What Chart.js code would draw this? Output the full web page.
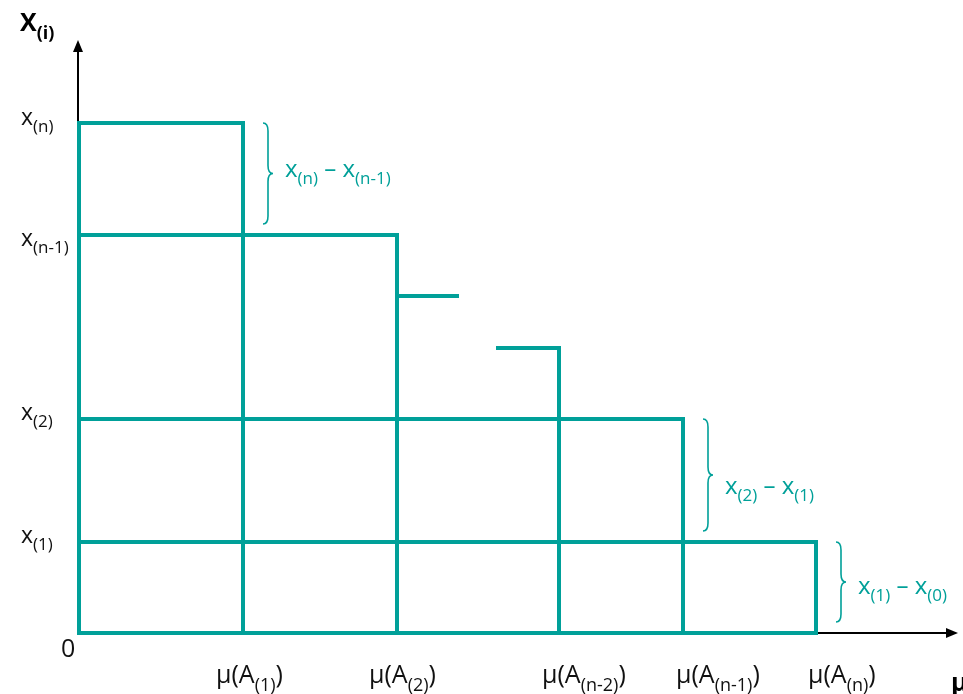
<!DOCTYPE html>
<html lang="en">
<head>
<meta charset="UTF-8">
<title>Staircase</title>
<style>
  body { margin: 0; background: #fff; }
  #wrap { width: 963px; height: 694px; }
</style>
</head>
<body>
<div id="wrap"><canvas id="stairs" width="963" height="694"></canvas></div>
<script src="https://cdn.jsdelivr.net/npm/chart.js"></script>
<script>
// step positions on the horizontal axis, mu(A(i))
var muValues = [1.64, 3.18, 4.80, 6.04, 7.37];
var muLabels = [['μ(A', '(1)', ')'], ['μ(A', '(2)', ')'], ['μ(A', '(n-2)', ')'], ['μ(A', '(n-1)', ')'], ['μ(A', '(n)', ')']];
// height of the right edge of each step
var columnTops = [5.10, 3.98, 2.85, 2.14, 0.91];

// levels x(i) on the vertical axis
var levelValues = [0.91, 2.14, 3.98, 5.10];
var levelLabels = [['x', '(1)'], ['x', '(2)'], ['x', '(n-1)'], ['x', '(n)']];
var levelReach = [7.37, 6.04, 3.18, 1.64];

// broken steps standing for the gap between (2) and (n-2)
var stubY = [3.37, 2.85];
var stubFrom = [3.18, 4.19];
var stubTo = [3.78, 4.80];

// braces with differences
var braceLabels = [['x', '(n)', ' – x', '(n-1)'], ['x', '(2)', ' – x', '(1)'], ['x', '(1)', ' – x', '(0)']];
var braceUpper = [5.10, 2.14, 0.91];
var braceLower = [3.98, 0.91, 0];
var braceAt = [1.64, 6.04, 7.37];

var xMax = 8.79, yMax = 5.93;

var teal = '#00a099';
var FONT = '"Open Sans", "DejaVu Sans", sans-serif';

function seg(x1, y1, x2, y2) {
    return {
        data: [{ x: x1, y: y1 }, { x: x2, y: y2 }],
        showLine: true,
        borderColor: teal,
        borderWidth: 4,
        borderCapStyle: 'square',
        pointRadius: 0,
        clip: false
    };
}

var datasets = [];
datasets.push(seg(0, 0, muValues[muValues.length - 1], 0));
datasets.push(seg(0, 0, 0, Math.max.apply(null, columnTops)));
levelValues.forEach(function(v, i) { datasets.push(seg(0, v, levelReach[i], v)); });
muValues.forEach(function(m, i) { datasets.push(seg(m, 0, m, columnTops[i])); });
stubY.forEach(function(v, i) { datasets.push(seg(stubFrom[i], v, stubTo[i], v)); });

// text with alternating normal / subscript pieces
function drawParts(ctx, parts, x, y, size, color, weight) {
    var subSize = Math.round(size * 0.72);
    ctx.fillStyle = color;
    ctx.textAlign = 'left';
    ctx.textBaseline = 'alphabetic';
    parts.forEach(function(p, i) {
        var sub = i % 2 === 1;
        ctx.font = (weight || 'normal') + ' ' + (sub ? subSize : size) + 'px ' + FONT;
        ctx.fillText(p, x, sub ? y + size * 0.3 : y);
        x += ctx.measureText(p).width;
    });
}

function arrow(ctx, x1, y1, x2, y2) {
    var a = Math.atan2(y2 - y1, x2 - x1);
    ctx.beginPath();
    ctx.moveTo(x1, y1);
    ctx.lineTo(x2 - 8 * Math.cos(a), y2 - 8 * Math.sin(a));
    ctx.stroke();
    ctx.beginPath();
    ctx.moveTo(x2, y2);
    ctx.lineTo(x2 - 12 * Math.cos(a) + 5 * Math.sin(a), y2 - 12 * Math.sin(a) - 5 * Math.cos(a));
    ctx.lineTo(x2 - 12 * Math.cos(a) - 5 * Math.sin(a), y2 - 12 * Math.sin(a) + 5 * Math.cos(a));
    ctx.closePath();
    ctx.fill();
}

function brace(ctx, x, top, bottom) {
    var mid = (top + bottom) / 2, w = 5, r = 8;
    ctx.beginPath();
    ctx.moveTo(x, top);
    ctx.quadraticCurveTo(x + w, top, x + w, top + r);
    ctx.lineTo(x + w, mid - r);
    ctx.quadraticCurveTo(x + w, mid, x + 2 * w, mid);
    ctx.quadraticCurveTo(x + w, mid, x + w, mid + r);
    ctx.lineTo(x + w, bottom - r);
    ctx.quadraticCurveTo(x + w, bottom, x, bottom);
    ctx.stroke();
}

// small per-label placement tweaks (pixels)
var levelNudge = [1, 1, 11, 2];
var muNudge = [-27, -28, -17, -7, -8];
var braceNudge = [3, 19, 12];

var axesPlugin = {
    id: 'axesArrows',
    beforeDatasetsDraw: function(chart) {
        var ctx = chart.ctx, xs = chart.scales.x, ys = chart.scales.y;
        var x0 = xs.getPixelForValue(0) - 1, y0 = ys.getPixelForValue(0);
        ctx.save();
        ctx.strokeStyle = '#000';
        ctx.fillStyle = '#000';
        ctx.lineWidth = 2;
        arrow(ctx, x0, y0, x0, ys.getPixelForValue(yMax));
        arrow(ctx, x0, y0, xs.getPixelForValue(xMax), y0);
        ctx.restore();
    },
    afterDraw: function(chart) {
        var ctx = chart.ctx, xs = chart.scales.x, ys = chart.scales.y;
        ctx.save();
        // vertical axis labels
        levelValues.forEach(function(v, i) {
            drawParts(ctx, levelLabels[i], 21, ys.getPixelForValue(v) + levelNudge[i], 23, '#111');
        });
        drawParts(ctx, ['0'], xs.getPixelForValue(0) - 18, 657, 25, '#111');
        // horizontal axis labels
        muValues.forEach(function(m, i) {
            drawParts(ctx, muLabels[i], xs.getPixelForValue(m) + muNudge[i], 683, 25, '#111');
        });
        // axis titles
        drawParts(ctx, ['X', '(i)'], 20, 31, 25, '#000', 'bold');
        drawParts(ctx, ['μ'], 951, 691, 25, '#000', 'bold');
        // braces
        ctx.strokeStyle = teal;
        ctx.lineWidth = 1.6;
        braceAt.forEach(function(b, i) {
            var bx = xs.getPixelForValue(b) + 20;
            var top = ys.getPixelForValue(braceUpper[i]);
            var bottom = ys.getPixelForValue(braceLower[i]) - 11;
            brace(ctx, bx, top, bottom);
            drawParts(ctx, braceLabels[i], bx + 22, (top + bottom) / 2 + braceNudge[i], 24, teal);
        });
        ctx.restore();
    }
};

var chart = new Chart(document.getElementById('stairs').getContext('2d'), {
    type: 'scatter',
    data: { datasets: datasets },
    options: {
        responsive: false,
        animation: false,
        layout: { padding: { left: 79, right: 5, top: 40, bottom: 61 } },
        plugins: { legend: { display: false }, tooltip: { enabled: false } },
        scales: {
            x: { type: 'linear', min: 0, max: xMax, display: false },
            y: { type: 'linear', min: 0, max: yMax, display: false }
        }
    },
    plugins: [axesPlugin]
});
</script>
</body>
</html>
